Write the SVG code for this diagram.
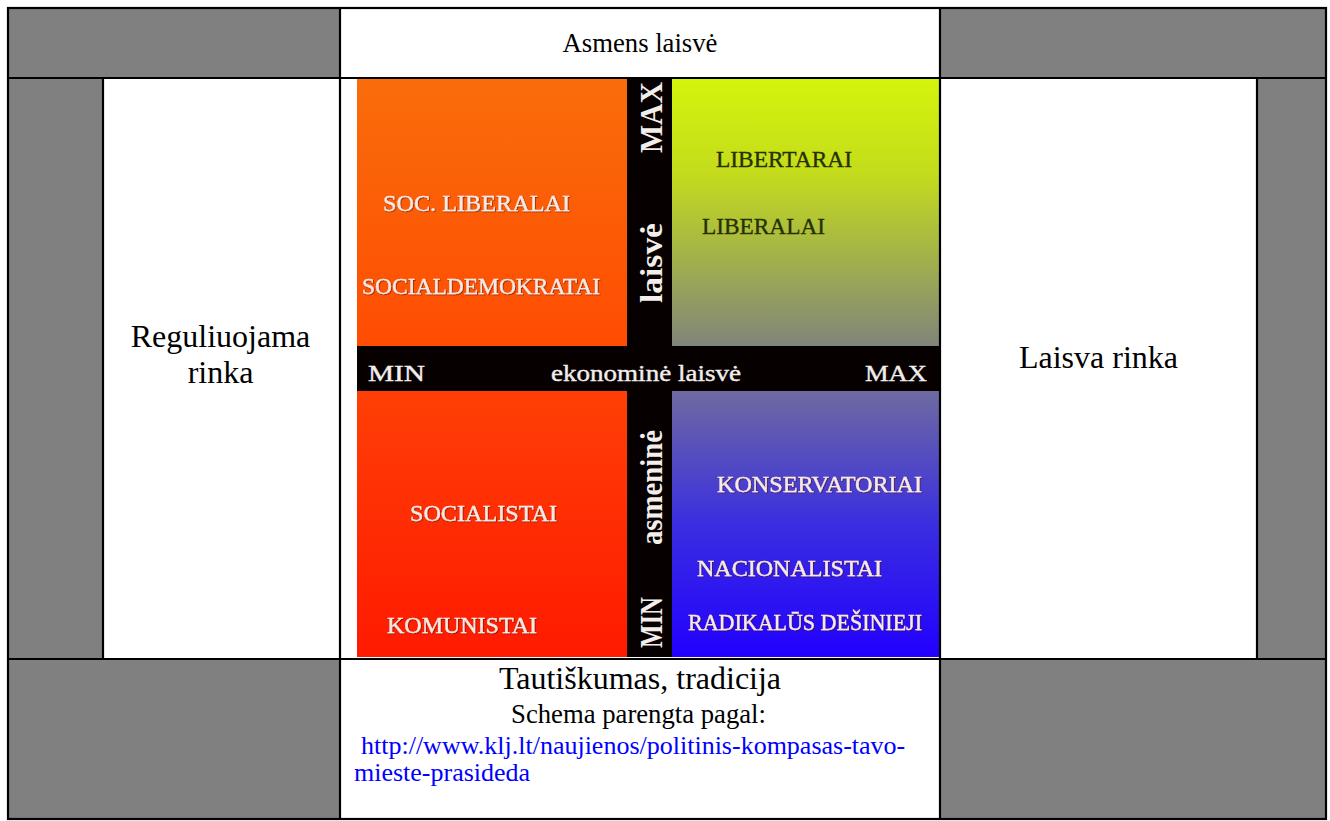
<svg xmlns="http://www.w3.org/2000/svg" width="1330" height="821" viewBox="0 0 1330 821">
<style>
.gray{fill:#808080}
.white{fill:#ffffff}
.grid{fill:none;stroke:#000;stroke-width:2.2}
.big{font-family:"Liberation Serif","Times New Roman",serif;font-size:32px;fill:#000}
.mid{font-family:"Liberation Serif","Times New Roman",serif;font-size:26.7px;fill:#000}
.link{font-family:"Liberation Serif","Times New Roman",serif;font-size:26px;fill:#0000ff}
.q{font-family:"Liberation Serif","Times New Roman",serif;font-size:23.5px;fill:#f8e9e4;stroke:#f8e9e4;stroke-width:0.35;filter:url(#sh)}
.qd{font-family:"Liberation Serif","Times New Roman",serif;font-size:23.5px;fill:#263000;stroke:#263000;stroke-width:0.35}
.ax{font-family:"Liberation Serif","Times New Roman",serif;font-size:31px;font-weight:bold;fill:#f2eeec}
.axh{font-family:"Liberation Serif","Times New Roman",serif;font-size:24px;fill:#f2eeec;stroke:#f2eeec;stroke-width:0.4}
</style>
<defs>
<linearGradient id="gTL" x1="0" y1="0" x2="0" y2="1"><stop offset="0" stop-color="#f96d0b"/><stop offset="1" stop-color="#ff4c02"/></linearGradient>
<linearGradient id="gBL" x1="0" y1="0" x2="0" y2="1"><stop offset="0" stop-color="#ff3f06"/><stop offset="1" stop-color="#ff1a00"/></linearGradient>
<linearGradient id="gTR" x1="0" y1="0" x2="0" y2="1"><stop offset="0" stop-color="#d4f40a"/><stop offset="0.35" stop-color="#c4dc1c"/><stop offset="1" stop-color="#80857a"/></linearGradient>
<linearGradient id="gBR" x1="0" y1="0" x2="0" y2="1"><stop offset="0" stop-color="#6e6aa0"/><stop offset="0.5" stop-color="#3a2ee0"/><stop offset="1" stop-color="#2200ff"/></linearGradient>
<filter id="sh" x="-5%" y="-30%" width="110%" height="160%"><feDropShadow dx="0.8" dy="0.8" stdDeviation="0.6" flood-color="#5a1000" flood-opacity="0.7"/></filter>
</defs>

<g id="cell-top-left"><rect class="gray" x="8" y="8" width="332" height="70"/></g>
<g id="cell-top-center"><rect class="white" x="340" y="8" width="600" height="70"/>
<text class="mid" x="640" y="52" text-anchor="middle">Asmens laisvė</text></g>
<g id="cell-top-right"><rect class="gray" x="940" y="8" width="386" height="70"/></g>

<g id="cell-mid-left-gray"><rect class="gray" x="8" y="78" width="95" height="581"/></g>
<g id="cell-regulated"><rect class="white" x="103" y="78" width="237" height="581"/>
<text class="big" x="220.5" y="347" text-anchor="middle">Reguliuojama</text>
<text class="big" x="220.5" y="383" text-anchor="middle">rinka</text></g>
<g id="cell-free"><rect class="white" x="940" y="78" width="317" height="581"/>
<text class="big" x="1098.5" y="368" text-anchor="middle">Laisva rinka</text></g>
<g id="cell-mid-right-gray"><rect class="gray" x="1257" y="78" width="69" height="581"/></g>

<g id="compass">
<rect x="357" y="79" width="583" height="578" fill="#060000"/>
<rect x="357" y="79" width="270" height="267" fill="url(#gTL)"/>
<rect x="672" y="79" width="268" height="267" fill="url(#gTR)"/>
<rect x="357" y="391" width="270" height="266" fill="url(#gBL)"/>
<rect x="672" y="391" width="268" height="266" fill="url(#gBR)"/>
<text class="q" x="383" y="211" textLength="187" lengthAdjust="spacingAndGlyphs">SOC. LIBERALAI</text>
<text class="q" x="362" y="294" textLength="238" lengthAdjust="spacingAndGlyphs">SOCIALDEMOKRATAI</text>
<text class="qd" x="716" y="167" textLength="136" lengthAdjust="spacingAndGlyphs">LIBERTARAI</text>
<text class="qd" x="702" y="234" textLength="123" lengthAdjust="spacingAndGlyphs">LIBERALAI</text>
<text class="q" x="410" y="521" textLength="147" lengthAdjust="spacingAndGlyphs">SOCIALISTAI</text>
<text class="q" x="387" y="633" textLength="150" lengthAdjust="spacingAndGlyphs">KOMUNISTAI</text>
<text class="q" x="717" y="492" textLength="205" lengthAdjust="spacingAndGlyphs">KONSERVATORIAI</text>
<text class="q" x="697" y="576" textLength="185" lengthAdjust="spacingAndGlyphs">NACIONALISTAI</text>
<text class="q" x="688" y="630" textLength="234" lengthAdjust="spacingAndGlyphs">RADIKALŪS DEŠINIEJI</text>
<text class="ax" transform="translate(662,153) rotate(-90)" textLength="71" lengthAdjust="spacingAndGlyphs">MAX</text>
<text class="ax" transform="translate(662,303) rotate(-90)" textLength="80" lengthAdjust="spacingAndGlyphs">laisvė</text>
<text class="ax" transform="translate(662,545) rotate(-90)" textLength="115" lengthAdjust="spacingAndGlyphs">asmeninė</text>
<text class="ax" transform="translate(662,648) rotate(-90)" textLength="51" lengthAdjust="spacingAndGlyphs">MIN</text>
<text class="axh" x="368" y="381" textLength="57" lengthAdjust="spacingAndGlyphs">MIN</text>
<text class="axh" x="551" y="381" textLength="190" lengthAdjust="spacingAndGlyphs">ekonominė laisvė</text>
<text class="axh" x="865" y="381" textLength="62" lengthAdjust="spacingAndGlyphs">MAX</text>
</g>

<g id="cell-bottom-left"><rect class="gray" x="8" y="659" width="332" height="160"/></g>
<g id="cell-bottom-center"><rect class="white" x="340" y="659" width="600" height="160"/>
<text class="big" x="640" y="689" text-anchor="middle">Tautiškumas, tradicija</text>
<text class="mid" x="638.5" y="723" text-anchor="middle">Schema parengta pagal:</text>
<text class="link" x="361" y="754">http://www.klj.lt/naujienos/politinis-kompasas-tavo-</text>
<text class="link" x="354" y="781">mieste-prasideda</text></g>
<g id="cell-bottom-right"><rect class="gray" x="940" y="659" width="386" height="160"/></g>

<g id="connectors">
<rect class="grid" x="8" y="8" width="1318" height="811"/>
<line class="grid" x1="8" y1="78" x2="1326" y2="78"/>
<line class="grid" x1="8" y1="659" x2="1326" y2="659"/>
<line class="grid" x1="340" y1="8" x2="340" y2="819"/>
<line class="grid" x1="940" y1="8" x2="940" y2="819"/>
<line class="grid" x1="103" y1="78" x2="103" y2="659"/>
<line class="grid" x1="1257" y1="78" x2="1257" y2="659"/>
</g>
</svg>
